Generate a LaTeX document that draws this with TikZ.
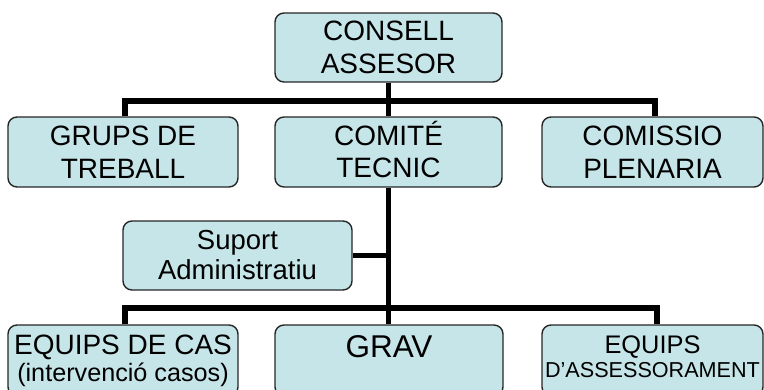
\documentclass[tikz,border=0pt]{standalone}
\usepackage{fontspec}
\setmainfont{Liberation Sans}
\definecolor{boxfill}{RGB}{198,229,233}

\tikzstyle{unit} = [draw=black!85, fill=boxfill, rounded corners=9pt, line width=1.4pt,
	align=center, inner sep=0pt, minimum height=70pt, font=\fontsize{28}{32.5}\selectfont]
\tikzstyle{link} = [line width=5.5pt]

\begin{document}
\begin{tikzpicture}[x=1pt,y=-1pt]
\useasboundingbox (0,0) rectangle (764,389);
\clip (0,0) rectangle (764,389);
% top
\node [unit,minimum width=227pt,minimum height=69pt] (consell) at (388.5,47.5) {CONSELL\\ASSESOR};
% second row
\node [unit,minimum width=230pt] (grups) at (123,152) {GRUPS DE\\TREBALL};
\node [unit,minimum width=227pt] (comite) at (388.5,152) {COMIT\smash{É}\\TECNIC};
\node [unit,minimum width=221pt] (comissio) at (652.5,152) {COMISSIO\\PLENARIA};
% support
\node [unit,minimum width=229pt,minimum height=69pt,font=\fontsize{27.5}{30}\selectfont]
	(suport) at (237.5,255.5) {Suport\\Administratiu};
% bottom row
\node [unit,minimum width=230pt,minimum height=71pt,font=\fontsize{28}{27}\selectfont]
	(equipscas) at (123,360.5) {EQUIPS DE CAS\\{\fontsize{25.2}{27}\selectfont (intervenció casos)}};
\node [unit,minimum width=228pt,minimum height=71pt,font=\fontsize{31.5}{32}\selectfont,
	text height=22.5pt,text depth=29pt] (grav) at (389,360.5) {GRAV};
\node [unit,minimum width=221pt,minimum height=71pt,font=\fontsize{25.4}{24}\selectfont,
	text depth=8pt] (assess) at (652.5,360.5) {EQUIPS\\{\fontsize{21.6}{24}\selectfont D’ASSESSORAMENT}};
% connectors
\coordinate (bus1) at (388.5,101);
\coordinate (bus2) at (388.5,308);
\draw [link] (consell.south) -- (comite.north);
\draw [link] ([xshift=2pt]grups.north) |- (bus1) -| ([xshift=2.5pt]comissio.north);
\draw [link] (comite.south) -- (grav.north -| comite.south);
\draw [link] (suport.east) -- (suport.east -| comite.south);
\draw [link] ([xshift=2pt]equipscas.north) |- (bus2) -| ([xshift=4.5pt]assess.north);
\end{tikzpicture}
\end{document}
